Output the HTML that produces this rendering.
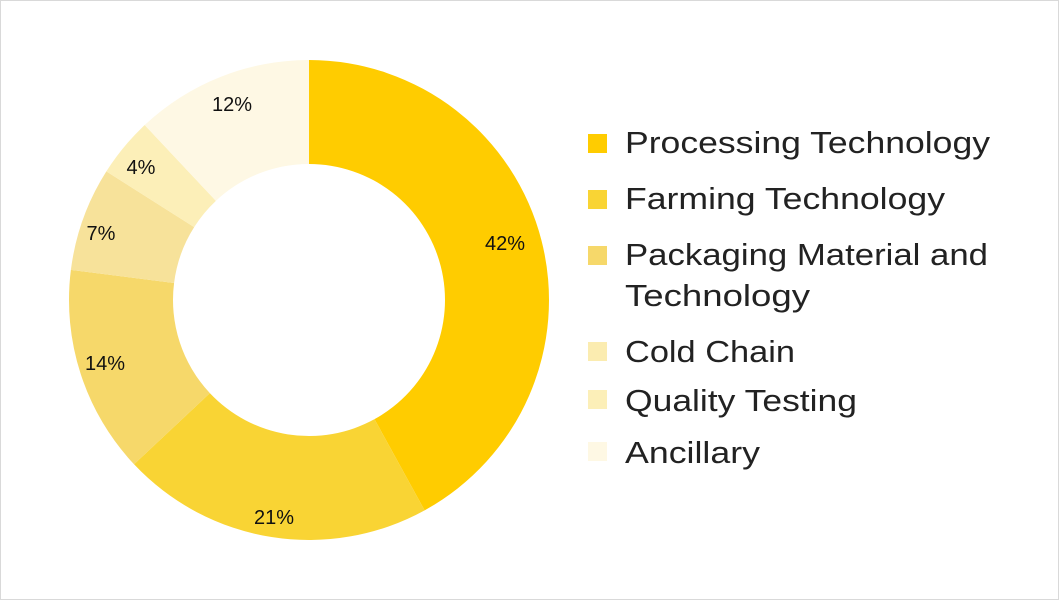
<!DOCTYPE html>
<html><head><meta charset="utf-8"><style>
html,body{margin:0;padding:0;background:#fff}
svg{display:block}
</style></head><body>
<svg id="s" width="1059" height="600" xmlns="http://www.w3.org/2000/svg" font-family="Liberation Sans, sans-serif">
<rect x="0.5" y="0.5" width="1058" height="599" fill="#fff" stroke="#d9d9d9"/>
<g id="arcs"></g>
<g font-size="20" fill="#111" text-anchor="middle">
<text x="505" y="250">42%</text>
<text x="274" y="524">21%</text>
<text x="105" y="370">14%</text>
<text x="101" y="240">7%</text>
<text x="141" y="174">4%</text>
<text x="232" y="111">12%</text>
</g>
<g>
<rect x="588" y="134" width="19" height="19" fill="#FFCC00"/>
<rect x="588" y="190" width="19" height="19" fill="#F9D434"/>
<rect x="588" y="246" width="19" height="19" fill="#F6D86A"/>
<rect x="588" y="342" width="19" height="19" fill="#FBECB0"/>
<rect x="588" y="390" width="19" height="19" fill="#FCEFB8"/>
<rect x="588" y="442" width="19" height="19" fill="#FEF8E4"/>
</g>
<g font-size="31" fill="#222" lengthAdjust="spacingAndGlyphs">
<text x="625" y="153" textLength="365" lengthAdjust="spacingAndGlyphs">Processing Technology</text>
<text x="625" y="209" textLength="320" lengthAdjust="spacingAndGlyphs">Farming Technology</text>
<text x="625" y="265" textLength="363" lengthAdjust="spacingAndGlyphs">Packaging Material and</text>
<text x="625" y="306" textLength="185" lengthAdjust="spacingAndGlyphs">Technology</text>
<text x="625" y="362" textLength="170" lengthAdjust="spacingAndGlyphs">Cold Chain</text>
<text x="625" y="411" textLength="232" lengthAdjust="spacingAndGlyphs">Quality Testing</text>
<text x="625" y="463" textLength="135" lengthAdjust="spacingAndGlyphs">Ancillary</text>
</g>
</svg>
<script>
var cx=309,cy=300,R=240,r=136;
var v=[42,21,14,7,4,12],c=["#FFCC00","#F9D434","#F6D86A","#F7E29A","#FCEFB8","#FEF8E4"];
var a=0,g=document.getElementById("arcs"),h="";
function p(rad,ang){var t=ang*Math.PI/180;return [cx+rad*Math.sin(t),cy-rad*Math.cos(t)];}
for(var i=0;i<v.length;i++){var b=a+v[i]*3.6,l=(b-a)>180?1:0;
var p1=p(R,a),p2=p(R,b),p3=p(r,b),p4=p(r,a);
h+='<path fill="'+c[i]+'" d="M'+p1+' A'+R+','+R+' 0 '+l+' 1 '+p2+' L'+p3+' A'+r+','+r+' 0 '+l+' 0 '+p4+'Z"/>';a=b;}
g.innerHTML=h;
</script>
</body></html>
